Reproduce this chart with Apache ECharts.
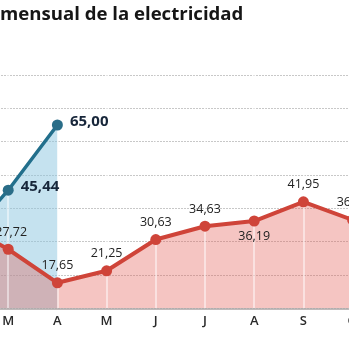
<!DOCTYPE html>
<html>
<head>
<meta charset="utf-8">
<script src="https://cdn.jsdelivr.net/npm/echarts@6/dist/echarts.min.js"></script>
<style>
html,body{margin:0;padding:0;background:#fff;overflow:hidden;width:349px;height:349px;}
#c{position:absolute;left:-41px;top:0;width:394px;height:349px;}
</style>
</head>
<body>
<div id="c"></div>
<script>
var titleText = 'mensual de la electricidad';
var months = ['F', 'M', 'A', 'M', 'J', 'J', 'A', 'S', 'O'];
var price2020 = [35.87, 27.72, 17.65, 21.25, 30.63, 34.63, 36.19, 41.95, 36.53];
var price2021 = [28.49, 45.44, 65.00, null, null, null, null, null, null];
var labelBelow = [false, false, false, false, false, false, true, false, false];
var labelShown = [false, true, true, true, true, true, true, true, true];
var yMin = 10, yMax = 80, yStep = 10;

function fmt(v) { return v.toFixed(2).replace('.', ','); }

var redData = price2020.map(function (v, i) {
  return {
    value: v,
    label: labelBelow[i]
      ? { show: labelShown[i], position: 'bottom', distance: 3 }
      : { show: labelShown[i], position: 'top', distance: 5, offset: [i === 1 ? 3 : 0, 0] }
  };
});
var blueData = price2021.map(function (v, i) {
  return { value: v, label: { show: labelShown[i] && v != null } };
});

var chart = echarts.init(document.getElementById('c'), null, { renderer: 'canvas' });
chart.setOption({
  animation: false,
  backgroundColor: '#ffffff',
  title: {
    text: titleText,
    left: 41,
    top: 5,
    padding: 0,
    textStyle: { fontFamily: 'Open Sans', fontWeight: 'bold', fontSize: 18.6, color: '#161616' }
  },
  grid: { left: 0, right: 0.4, top: 75, bottom: 40.7, containLabel: false, outerBoundsMode: 'none' },
  xAxis: {
    type: 'category',
    data: months,
    boundaryGap: false,
    z: 1.5,
    axisLine: { show: true, lineStyle: { color: '#aaa4a4', width: 1.5 } },
    axisTick: { show: false },
    axisLabel: { color: '#2a2a2a', fontFamily: 'Open Sans', fontWeight: 600, fontSize: 13, margin: 6 },
    splitLine: { show: true, lineStyle: { color: 'rgba(255,255,255,0.65)', width: 1.5 } }
  },
  yAxis: {
    type: 'value',
    min: yMin, max: yMax, interval: yStep,
    z: 0,
    axisLine: { show: false },
    axisTick: { show: false },
    axisLabel: { show: false },
    splitLine: { show: true, lineStyle: { color: '#c8c8c8', type: [2, 1], width: 1 } }
  },
  series: [
    {
      name: '2021 area', type: 'line', z: 1, data: price2021,
      showSymbol: false, symbol: 'none', silent: true,
      lineStyle: { width: 0 },
      areaStyle: { color: 'rgba(139,197,223,0.5)', opacity: 1 }
    },
    {
      name: '2020 area', type: 'line', z: 1, data: price2020,
      showSymbol: false, symbol: 'none', silent: true,
      lineStyle: { width: 0 },
      areaStyle: { color: 'rgba(226,84,76,0.34)', opacity: 1 }
    },
    {
      name: '2020', type: 'line', z: 3, data: redData,
      symbol: 'circle', symbolSize: 11, showSymbol: true,
      lineStyle: { color: '#cf4439', width: 4 },
      itemStyle: { color: '#cf4439' },
      label: {
        show: true, formatter: function (p) { return fmt(p.value); },
        fontFamily: 'Open Sans', fontSize: 12.5, color: '#222'
      }
    },
    {
      name: '2021', type: 'line', z: 3, data: blueData,
      symbol: 'circle', symbolSize: 11, showSymbol: true,
      lineStyle: { color: '#226f8c', width: 3.5 },
      itemStyle: { color: '#2a6d88' },
      label: {
        show: true, position: 'right', distance: 7, offset: [0, -3],
        formatter: function (p) { return p.value == null ? '' : fmt(p.value); },
        fontFamily: 'Open Sans', fontWeight: 'bold', fontSize: 15, color: '#17263a'
      }
    }
  ]
});
</script>
</body>
</html>
